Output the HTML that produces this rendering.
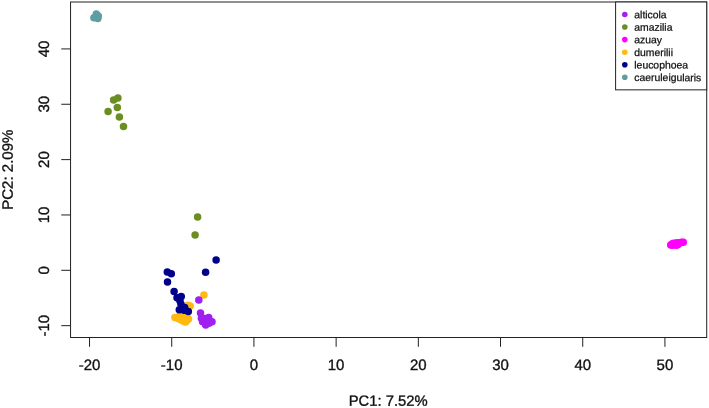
<!DOCTYPE html>
<html><head><meta charset="utf-8"><title>PCA</title>
<style>
html,body{margin:0;padding:0;background:#fff;}
body{width:709px;height:408px;overflow:hidden;}
svg{display:block;}
text{font-family:"Liberation Sans",Arial,Helvetica,sans-serif;fill:#111;}
.ax{font-size:15px;stroke:#111;stroke-width:0.35px;}
.lg{font-size:10.4px;stroke:#111;stroke-width:0.25px;}
</style></head><body>
<svg width="709" height="408" viewBox="0 0 709 408">
<rect width="709" height="408" fill="#fff"/>
<rect x="70.55" y="2.0" width="636.15" height="335.50" fill="none" stroke="#222" stroke-width="1"/>
<line x1="89.53" y1="337.5" x2="89.53" y2="346.8" stroke="#222" stroke-width="1"/>
<text x="89.53" y="370" transform="rotate(0.04 89.53 370)" text-anchor="middle" class="ax">-20</text>
<line x1="171.73" y1="337.5" x2="171.73" y2="346.8" stroke="#222" stroke-width="1"/>
<text x="171.73" y="370" transform="rotate(0.04 171.73 370)" text-anchor="middle" class="ax">-10</text>
<line x1="253.93" y1="337.5" x2="253.93" y2="346.8" stroke="#222" stroke-width="1"/>
<text x="253.93" y="370" transform="rotate(0.04 253.93 370)" text-anchor="middle" class="ax">0</text>
<line x1="336.13" y1="337.5" x2="336.13" y2="346.8" stroke="#222" stroke-width="1"/>
<text x="336.13" y="370" transform="rotate(0.04 336.13 370)" text-anchor="middle" class="ax">10</text>
<line x1="418.33" y1="337.5" x2="418.33" y2="346.8" stroke="#222" stroke-width="1"/>
<text x="418.33" y="370" transform="rotate(0.04 418.33 370)" text-anchor="middle" class="ax">20</text>
<line x1="500.53" y1="337.5" x2="500.53" y2="346.8" stroke="#222" stroke-width="1"/>
<text x="500.53" y="370" transform="rotate(0.04 500.53 370)" text-anchor="middle" class="ax">30</text>
<line x1="582.73" y1="337.5" x2="582.73" y2="346.8" stroke="#222" stroke-width="1"/>
<text x="582.73" y="370" transform="rotate(0.04 582.73 370)" text-anchor="middle" class="ax">40</text>
<line x1="664.93" y1="337.5" x2="664.93" y2="346.8" stroke="#222" stroke-width="1"/>
<text x="664.93" y="370" transform="rotate(0.04 664.93 370)" text-anchor="middle" class="ax">50</text>
<line x1="61.25" y1="325.66" x2="70.55" y2="325.66" stroke="#222" stroke-width="1"/>
<text transform="translate(49.0,325.66) rotate(-90.04)" text-anchor="middle" class="ax">-10</text>
<line x1="61.25" y1="270.31" x2="70.55" y2="270.31" stroke="#222" stroke-width="1"/>
<text transform="translate(49.0,270.31) rotate(-90.04)" text-anchor="middle" class="ax">0</text>
<line x1="61.25" y1="214.96" x2="70.55" y2="214.96" stroke="#222" stroke-width="1"/>
<text transform="translate(49.0,214.96) rotate(-90.04)" text-anchor="middle" class="ax">10</text>
<line x1="61.25" y1="159.61" x2="70.55" y2="159.61" stroke="#222" stroke-width="1"/>
<text transform="translate(49.0,159.61) rotate(-90.04)" text-anchor="middle" class="ax">20</text>
<line x1="61.25" y1="104.26" x2="70.55" y2="104.26" stroke="#222" stroke-width="1"/>
<text transform="translate(49.0,104.26) rotate(-90.04)" text-anchor="middle" class="ax">30</text>
<line x1="61.25" y1="48.91" x2="70.55" y2="48.91" stroke="#222" stroke-width="1"/>
<text transform="translate(49.0,48.91) rotate(-90.04)" text-anchor="middle" class="ax">40</text>
<text x="388.2" y="405.7" transform="rotate(0.04 388.2 405.7)" text-anchor="middle" class="ax" style="font-size:14.8px">PC1: 7.52%</text>
<text transform="translate(12.7,169.7) rotate(-90.04)" text-anchor="middle" class="ax">PC2: 2.09%</text>
<g fill="#FFB90F"><circle cx="203.9" cy="294.9" r="3.75"/><circle cx="190.2" cy="305.9" r="3.75"/><circle cx="187.7" cy="305.2" r="3.75"/><circle cx="174.9" cy="317.5" r="3.75"/><circle cx="178" cy="318.5" r="3.75"/><circle cx="181" cy="320" r="3.75"/><circle cx="184" cy="321.5" r="3.75"/><circle cx="186.5" cy="321" r="3.75"/><circle cx="188.5" cy="319" r="3.75"/><circle cx="187" cy="317" r="3.75"/><circle cx="183" cy="318" r="3.75"/><circle cx="180" cy="316.5" r="3.75"/><circle cx="179.5" cy="315.8" r="3.75"/><circle cx="183.5" cy="315.5" r="3.75"/><circle cx="185.5" cy="314.5" r="3.75"/><circle cx="185.5" cy="322" r="3.75"/></g>
<g fill="#A020F0"><circle cx="198.8" cy="299.9" r="3.75"/><circle cx="200.5" cy="313.0" r="3.75"/><circle cx="201.4" cy="318.2" r="3.75"/><circle cx="202.6" cy="321.8" r="3.75"/><circle cx="205.7" cy="325.1" r="3.75"/><circle cx="208.7" cy="317.4" r="3.75"/><circle cx="212.0" cy="321.7" r="3.75"/><circle cx="209.0" cy="323.3" r="3.75"/><circle cx="204.5" cy="318.5" r="3.75"/><circle cx="206.5" cy="321" r="3.75"/></g>
<g fill="#00008B"><circle cx="216.1" cy="260.0" r="3.75"/><circle cx="205.6" cy="272.3" r="3.75"/><circle cx="167.3" cy="272.0" r="3.75"/><circle cx="171.3" cy="273.8" r="3.75"/><circle cx="167.5" cy="281.9" r="3.75"/><circle cx="174.1" cy="291.4" r="3.75"/><circle cx="181.25" cy="296.6" r="3.75"/><circle cx="177.0" cy="297.85" r="3.75"/><circle cx="180.0" cy="300.9" r="3.75"/><circle cx="181.0" cy="304.3" r="3.75"/><circle cx="184.7" cy="307.5" r="3.75"/><circle cx="184.0" cy="310.2" r="3.75"/><circle cx="179.3" cy="309.8" r="3.75"/><circle cx="188.3" cy="311.6" r="3.75"/></g>
<g fill="#6B8E23"><circle cx="113.6" cy="99.9" r="3.75"/><circle cx="117.9" cy="98.0" r="3.75"/><circle cx="117.3" cy="107.5" r="3.75"/><circle cx="108.1" cy="111.4" r="3.75"/><circle cx="119.4" cy="117.0" r="3.75"/><circle cx="123.5" cy="126.6" r="3.75"/><circle cx="197.6" cy="217.1" r="3.75"/><circle cx="195.1" cy="234.9" r="3.75"/></g>
<g fill="#5F9EA0"><circle cx="93.9" cy="17.8" r="3.75"/><circle cx="96.3" cy="13.9" r="3.75"/><circle cx="98.3" cy="15.9" r="3.75"/><circle cx="97.8" cy="18.6" r="3.75"/><circle cx="96.5" cy="16.5" r="3.75"/></g>
<g fill="#FF00FF"><circle cx="670.7" cy="244.9" r="3.75"/><circle cx="672.5" cy="245.20000000000002" r="3.75"/><circle cx="674.5" cy="244.60000000000002" r="3.75"/><circle cx="676.5" cy="245.20000000000002" r="3.75"/><circle cx="678" cy="244.60000000000002" r="3.75"/><circle cx="672" cy="243.9" r="3.75"/><circle cx="675" cy="243.8" r="3.75"/><circle cx="679.5" cy="243.10000000000002" r="3.75"/><circle cx="681.5" cy="242.3" r="3.75"/><circle cx="683.3" cy="242.3" r="3.75"/><circle cx="676" cy="242.9" r="3.75"/><circle cx="678" cy="242.70000000000002" r="3.75"/><circle cx="673.5" cy="243.3" r="3.75"/></g>
<rect x="615.6" y="2.0" width="91.10" height="87.85" fill="#fff" stroke="#222" stroke-width="1"/>
<circle cx="624.8" cy="14.50" r="2.8" fill="#A020F0"/>
<text x="634.3" y="18.20" transform="rotate(0.04 634.3 18.20)" class="lg">alticola</text>
<circle cx="624.8" cy="27.06" r="2.8" fill="#6B8E23"/>
<text x="634.3" y="30.78" transform="rotate(0.04 634.3 30.78)" class="lg">amazilia</text>
<circle cx="624.8" cy="39.62" r="2.8" fill="#FF00FF"/>
<text x="634.3" y="43.36" transform="rotate(0.04 634.3 43.36)" class="lg">azuay</text>
<circle cx="624.8" cy="52.18" r="2.8" fill="#FFB90F"/>
<text x="634.3" y="55.94" transform="rotate(0.04 634.3 55.94)" class="lg">dumerilii</text>
<circle cx="624.8" cy="64.74" r="2.8" fill="#00008B"/>
<text x="634.3" y="68.52" transform="rotate(0.04 634.3 68.52)" class="lg">leucophoea</text>
<circle cx="624.8" cy="77.30" r="2.8" fill="#5F9EA0"/>
<text x="634.3" y="81.10" transform="rotate(0.04 634.3 81.10)" class="lg">caeruleigularis</text>
</svg>
</body></html>
